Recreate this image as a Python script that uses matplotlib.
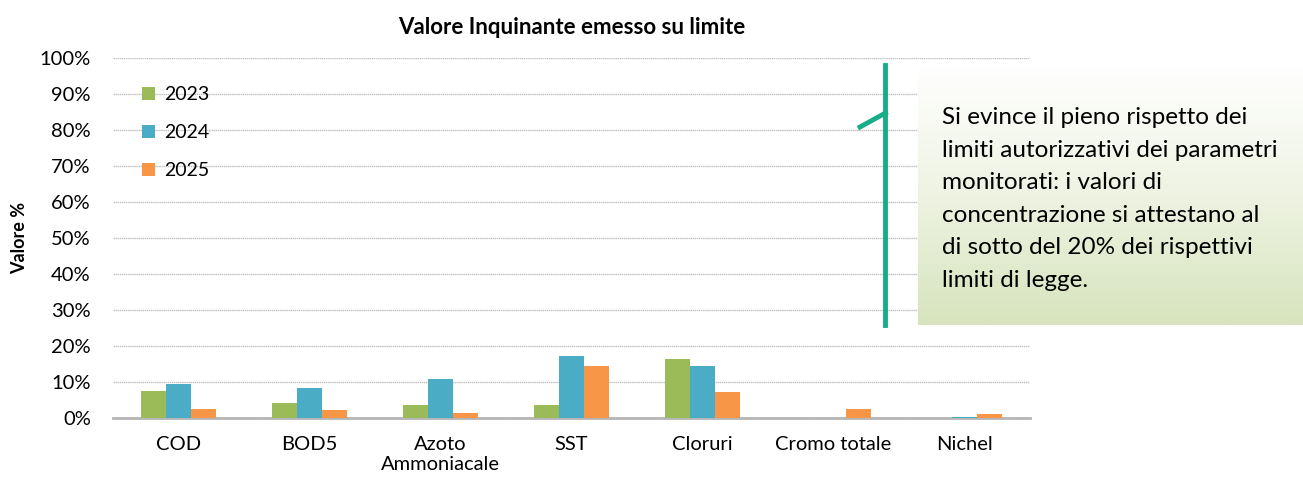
import matplotlib
matplotlib.use("Agg")
import matplotlib.pyplot as plt
import numpy as np
from matplotlib.lines import Line2D
from matplotlib.colors import LinearSegmentedColormap

plt.rcParams['font.family'] = ['Lato', 'DejaVu Sans']

categories = ["COD", "BOD5", "Azoto\nAmmoniacale", "SST", "Cloruri", "Cromo totale", "Nichel"]
years = ["2023", "2024", "2025"]
v2023 = [7.5, 4.2, 3.5, 3.5, 16.5, 0.05, 0.05]
v2024 = [9.4, 8.2, 10.7, 17.2, 14.5, 0.05, 0.2]
v2025 = [2.5, 2.3, 1.3, 14.4, 7.3, 2.6, 1.0]
colors = ["#9BBB59", "#4BACC6", "#F79646"]

note = ("Si evince il pieno rispetto dei\n"
        "limiti autorizzativi dei parametri\n"
        "monitorati: i valori di\n"
        "concentrazione si attestano al\n"
        "di sotto del 20% dei rispettivi\n"
        "limiti di legge.")

W, H = 1303, 483
fig = plt.figure(figsize=(W / 100, H / 100), dpi=100)
ax = fig.add_axes([113 / W, 1 - 418 / H, (1030 - 113) / W, (418 - 58) / H])

x = np.arange(len(categories))
bw = 0.193
for i, (vals, c, lab) in enumerate(zip([v2023, v2024, v2025], colors, years)):
    ax.bar(x + (i - 1) * bw, vals, bw, color=c, label=lab, zorder=3)

ax.set_xlim(-0.5, len(categories) - 0.5)
ax.set_ylim(0, 100)
ax.set_yticks(np.arange(0, 101, 10))
ax.set_yticklabels([f"{t}%" for t in range(0, 101, 10)], fontsize=14.5)
ax.set_xticks(x)
ax.set_xticklabels(categories, fontsize=14.5)
ax.tick_params(axis='both', length=0, colors="#000000")
ax.tick_params(axis='x', pad=13)
ax.tick_params(axis='y', pad=16)
ax.grid(axis='y', color="#C0C0C0", linestyle=(0, (1, 0.5)), linewidth=1, zorder=0)
for s in ["top", "right", "left"]:
    ax.spines[s].set_visible(False)
ax.spines["bottom"].set_color("#B5B5B5")
ax.spines["bottom"].set_linewidth(2)
ax.set_ylabel("Valore %", fontsize=13, fontweight="bold", labelpad=8)
ax.set_title("Valore Inquinante emesso su limite", fontsize=16, fontweight="bold", pad=17)

leg = ax.legend(loc="upper left", bbox_to_anchor=(0.012, 0.97), frameon=False, fontsize=14,
                labelspacing=1.08, handlelength=0.7, handleheight=0.7, handletextpad=0.45)

# callout box with gradient
bx0, bx1, by0, by1 = 918, 1303, 65, 325
bax = fig.add_axes([bx0 / W, 1 - by1 / H, (bx1 - bx0) / W, (by1 - by0) / H])
cmap = LinearSegmentedColormap.from_list("g", ["#FFFFFF", "#EEF3E2", "#D7E4BD"])
grad = np.linspace(0, 1, 256).reshape(-1, 1)
bax.imshow(grad, aspect="auto", cmap=cmap, extent=[0, 1, 0, 1], origin="upper")
bax.set_axis_off()
fig.text(942 / W, 1 - 107 / H, note, fontsize=17.5, va="top", ha="left", linespacing=1.68)

# bracket line
lc = "#17AD86"
fig.add_artist(Line2D([885.5 / W, 885.5 / W], [1 - 65 / H, 1 - 325 / H], color=lc, linewidth=3.5))
fig.add_artist(Line2D([860 / W, 885.5 / W], [1 - 127 / H, 1 - 113 / H], color=lc, linewidth=3.5))

fig.savefig("out.png", dpi=100)
